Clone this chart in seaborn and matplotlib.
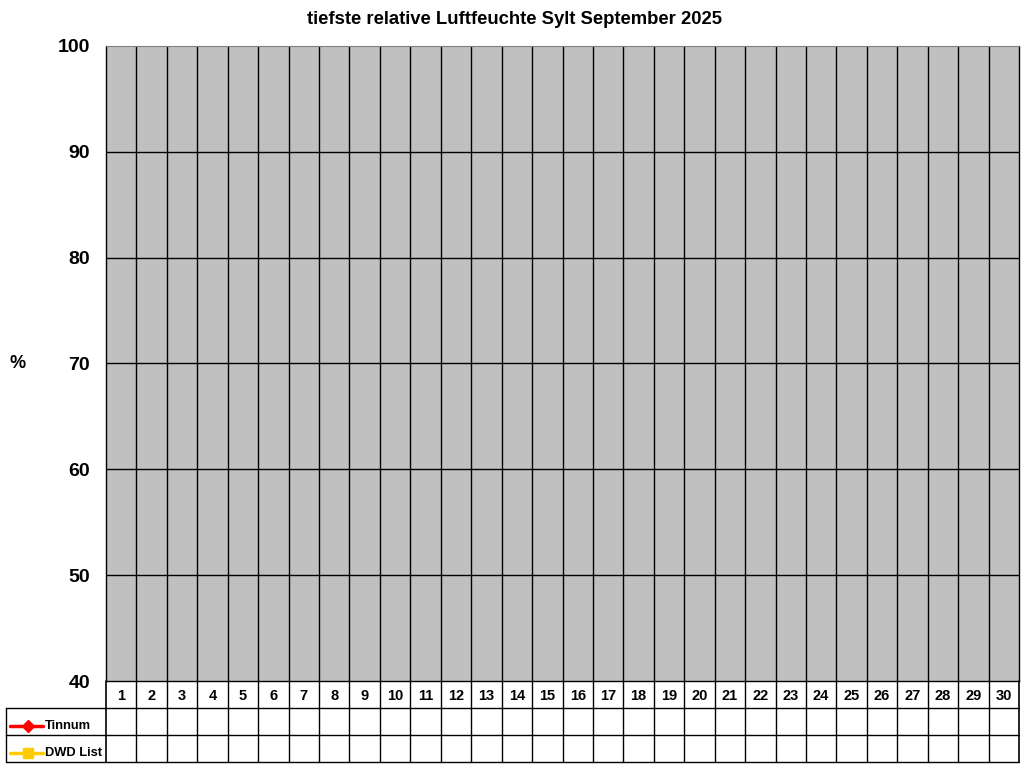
import numpy as np
import pandas as pd
import matplotlib
matplotlib.use("Agg")
import matplotlib.pyplot as plt
import seaborn as sns

sns.set_style("white")
plt.rcParams['font.family'] = ['Liberation Sans', 'DejaVu Sans']
plt.rcParams['font.weight'] = 'bold'
plt.rcParams['text.color'] = 'black'
plt.rcParams['ytick.color'] = 'black'
plt.rcParams['xtick.color'] = 'black'

# data (no values recorded yet this month)
days = list(range(1, 31))
tinnum = [np.nan] * 30
dwd_list = [np.nan] * 30
y_ticks = [40, 50, 60, 70, 80, 90, 100]
series_names = ["Tinnum", "DWD List"]
series_colors = ["#ff0000", "#ffcc00"]
series_markers = ["D", "s"]

df = pd.DataFrame({"Tag": days, "Tinnum": tinnum, "DWD List": dwd_list})
long = df.melt(id_vars="Tag", var_name="Station", value_name="rF")

W, H = 1024, 768
fig = plt.figure(figsize=(W / 100, H / 100), dpi=100)

# main plot area
left, right, top, bottom = 106, 1019, 46, 681
ax = fig.add_axes([left / W, (H - bottom) / H, (right - left) / W, (bottom - top) / H])
ax.set_facecolor("#c0c0c0")
for name, col, mk in zip(series_names, series_colors, series_markers):
    sub = long[long["Station"] == name]
    ax.plot(sub["Tag"], sub["rF"], color=col, marker=mk, lw=2, ms=6)
ax.set_xlim(0.5, 30.5)
ax.set_ylim(40, 100)
ax.set_yticks(y_ticks)
ax.set_yticklabels([str(t) for t in y_ticks], fontsize=14, fontweight="bold", color="black")
ax.set_xticks([])
ax.tick_params(axis="y", direction="out", length=4.5, width=1, color="black", pad=7)
for t in y_ticks[1:-1]:
    ax.axhline(t, color="black", lw=1, zorder=1)
for d in days[:-1]:
    ax.axvline(d + 0.5, color="black", lw=1, zorder=1)
for s in ["left", "right", "bottom"]:
    ax.spines[s].set_color("black")
    ax.spines[s].set_linewidth(1)
ax.spines["top"].set_color("#808080")
ax.set_xlabel("")
ax.set_ylabel("")
fig.text(9 / W, 1 - 364 / H, "%", fontsize=13, fontweight="bold", va="center", ha="left")

fig.text(0.502, 1 - 20 / H, "tiefste relative Luftfeuchte Sylt September 2025",
         fontsize=13.3, fontweight="bold", ha="center", va="center")

# data table below the plot
tb_bottom = 762
tax = fig.add_axes([left / W, (H - tb_bottom) / H, (right - left) / W, (tb_bottom - bottom) / H])
tax.set_xlim(0.5, 30.5)
tax.set_ylim(3, 0)
tax.axis("off")
lab_w = (left - 6) / (right - left) * 30
for d in days:
    tax.text(d, 0.55, str(d), fontsize=10.5, fontweight="bold", ha="center", va="center")
for d in days[:-1]:
    tax.plot([d + 0.5, d + 0.5], [0, 3], color="black", lw=1, clip_on=False)
tax.plot([30.5, 30.5], [0, 3], color="black", lw=1.2, clip_on=False)
tax.plot([0.5, 0.5], [0, 3], color="black", lw=1.2, clip_on=False)
tax.plot([0.5 - lab_w, 0.5 - lab_w], [1, 3], color="black", lw=1, clip_on=False)
for r in [1, 2, 3]:
    tax.plot([0.5 - lab_w, 30.5], [r, r], color="black", lw=1, clip_on=False)

px = 30 / (right - left)
for i, (name, col, mk) in enumerate(zip(series_names, series_colors, series_markers)):
    yy = 1.65 + i
    tax.plot([0.5 - lab_w + 4 * px, 0.5 - lab_w + 37 * px], [yy, yy], color=col, lw=2.5, clip_on=False)
    tax.plot([0.5 - lab_w + 22 * px], [yy], color=col, marker=mk, ms=6 if mk == "D" else 7,
             clip_on=False, lw=0)
    tax.text(0.5 - lab_w + 39 * px, yy, name, fontsize=9.3, fontweight="bold", ha="left", va="center")

fig.savefig("out.png", dpi=100)
